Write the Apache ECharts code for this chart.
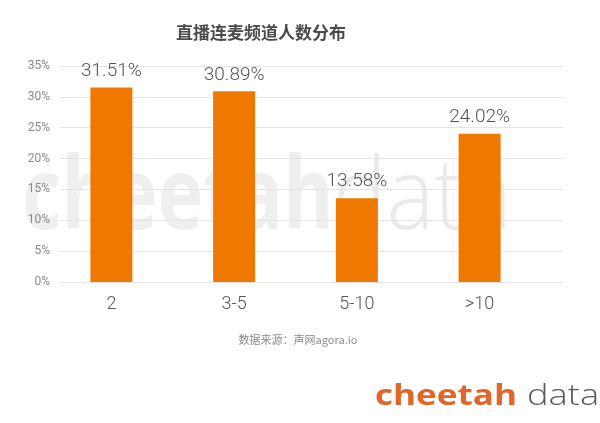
<!DOCTYPE html>
<html>
<head>
<meta charset="utf-8">
<script src="https://cdn.jsdelivr.net/npm/echarts@6/dist/echarts.min.js"></script>
<style>html,body{margin:0;padding:0;background:#fff}#c{width:600px;height:423px}</style>
</head>
<body>
<div id="c"></div>
<script>
var categories = ['2', '3-5', '5-10', '>10'];
var values = [31.51, 30.89, 13.58, 24.02];
var yTicks = [0, 5, 10, 15, 20, 25, 30, 35];
var titleText = '直播连麦频道人数分布';
var sourceText = '数据来源：声网agora.io';

var chart = echarts.init(document.getElementById('c'));
var font = 'Roboto, "Liberation Sans", "Noto Sans CJK SC", sans-serif';
var cjk = '"Noto Sans CJK SC", sans-serif';
chart.setOption({
  backgroundColor: '#ffffff',
  animation: false,
  graphic: [
    { type: 'text', z: -10, x: 22, y: 151, scaleX: 0.77, style: { x: 0, y: 0, text: 'cheetah', font: 'bold 100px "Open Sans", sans-serif', fill: '#efefef', textAlign: 'left', textVerticalAlign: 'top' } },
    { type: 'text', z: -10, x: 333, y: 151, scaleX: 0.9, style: { x: 0, y: 0, text: 'data', font: '300 100px "Open Sans", sans-serif', fill: '#eaeaea', textAlign: 'left', textVerticalAlign: 'top' } },
    { type: 'text', x: 375, y: 382, scaleX: 1.21, style: { x: 0, y: 0, text: 'cheetah', font: 'bold 29px "Open Sans", sans-serif', fill: '#e0672a', textAlign: 'left', textVerticalAlign: 'top' } },
    { type: 'text', x: 527, y: 382, scaleX: 1.25, style: { x: 0, y: 0, text: 'data', font: '300 29px "Open Sans", sans-serif', fill: '#5a5a5a', textAlign: 'left', textVerticalAlign: 'top' } },
    { type: 'text', x: 261, y: 33, style: { text: titleText, font: 'bold 17px ' + cjk, fill: '#4a4a4a', textAlign: 'center', textVerticalAlign: 'middle' } },
    { type: 'text', x: 298, y: 340, style: { text: sourceText, font: '11px ' + cjk, fill: '#8a8a8a', textAlign: 'center', textVerticalAlign: 'middle' } }
  ],
  grid: [
    { left: 60, right: 37, top: 66, bottom: 141 },
    { left: 50, right: 59, top: 66, bottom: 141 }
  ],
  xAxis: [
    { gridIndex: 0, type: 'category', data: categories, show: false },
    { gridIndex: 1, type: 'category', data: categories,
      axisLine: { show: false }, axisTick: { show: false },
      axisLabel: { color: '#555', fontSize: 18, fontFamily: font, fontWeight: 300, margin: 14 } }
  ],
  yAxis: [
    { gridIndex: 0, type: 'value', min: yTicks[0], max: yTicks[yTicks.length - 1], interval: 5,
      axisLine: { show: false }, axisTick: { show: false },
      axisLabel: { formatter: '{value}%', color: '#8a8a8a', fontSize: 12, fontFamily: font, margin: 10 },
      splitLine: { lineStyle: { color: '#e4e4e4', width: 1 } } },
    { gridIndex: 1, type: 'value', min: yTicks[0], max: yTicks[yTicks.length - 1], interval: 5, show: false, splitLine: { show: false } }
  ],
  series: [{
    type: 'bar', xAxisIndex: 1, yAxisIndex: 1, data: values, barWidth: 42,
    itemStyle: { color: '#ee7800' },
    label: { show: true, position: 'top', distance: 7, formatter: function (p) { return p.value.toFixed(2) + '%'; },
      color: '#555', fontSize: 19, fontFamily: font, fontWeight: 300 }
  }]
});
</script>
</body>
</html>
